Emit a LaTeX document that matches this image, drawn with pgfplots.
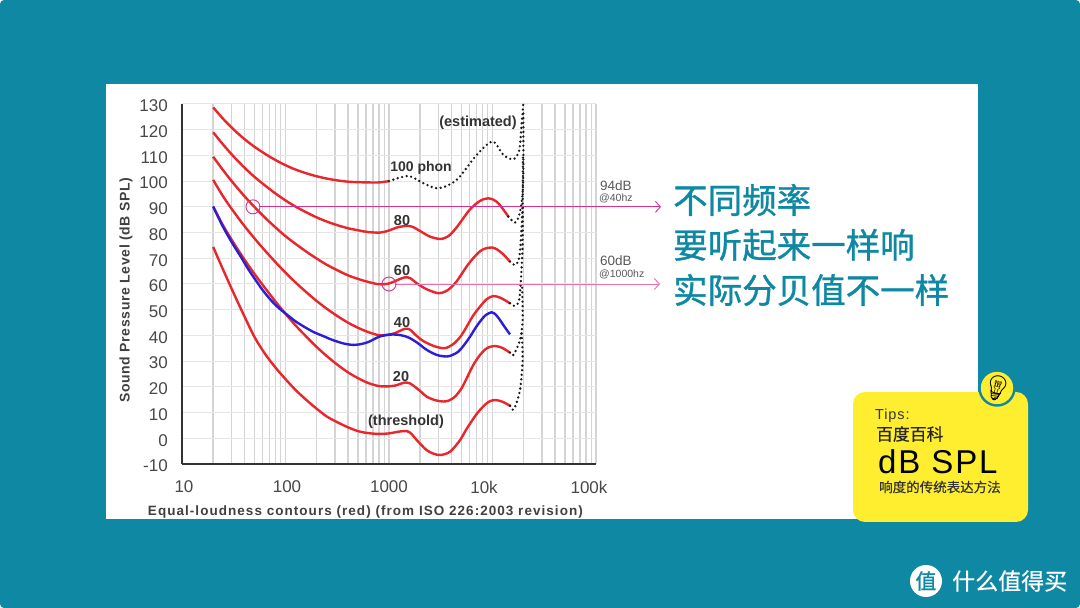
\documentclass[border=0pt]{standalone}
\usepackage{fontspec}
\usepackage{pgfplots}
\pgfplotsset{compat=1.18}
\usetikzlibrary{arrows.meta}
\setmainfont{Liberation Sans}
\newfontfamily\cjk{Noto Sans CJK SC}
\newfontfamily\cjkm[FakeBold=1.0]{Noto Sans CJK SC}
\newfontfamily\cjks[FakeBold=0.5]{Noto Sans CJK SC}
\newfontfamily\emojifont{Noto Emoji}
\definecolor{teal1}{HTML}{0F88A3}
\definecolor{card}{HTML}{FFEE30}
\definecolor{curve}{HTML}{E8262B}
\definecolor{loud}{HTML}{2A1FD6}
\definecolor{pinkA}{HTML}{D6338F}
\definecolor{pinkB}{HTML}{E96FAE}
\definecolor{labelgray}{HTML}{484848}
\newcommand{\fs}[1]{\fontsize{#1}{#1}\selectfont}
\begin{document}
\begin{tikzpicture}[x=1pt,y=1pt]
\path[use as bounding box] (0,0) rectangle (1080,608);
\fill[white] (0,0) rectangle (1080,608);
\fill[teal1, rounded corners=4pt] (0,0) rectangle (1080,608);
\fill[white] (106,89) rectangle (978,524);
\begin{axis}[
at={(182pt,144pt)}, anchor=south west,
scale only axis, width=414pt, height=360pt,
xmode=log, xmin=10, xmax=100000, ymin=-10, ymax=130,
clip=false,
axis x line=bottom, axis y line=left,
axis line style={-, draw=black!80, line width=2pt},
xtick={10,100,1000,10000,100000},
xticklabels={\hspace*{4pt}10,\hspace*{3pt}100,1000,10k\hspace*{17pt},100k\hspace*{14pt}},
minor xtick={20,30,40,50,60,70,80,90,100,200,300,400,500,600,700,800,900,1000,2000,3000,4000,5000,6000,7000,8000,9000,10000,20000,30000,40000,50000,60000,70000,80000,90000,100000},
ytick={-10,0,10,20,30,40,50,60,70,80,90,100,110,120,130},
yticklabels={-10,0,10,20,30,40,50,60,70,80,90,100,110,120,130},
major tick length=0pt, minor tick length=0pt,
ymajorgrids=true, xminorgrids=true,
major grid style={draw=black!10, line width=1pt},
minor grid style={draw=black!17, line width=1.4pt},
tick label style={font=\fs{17}, text=labelgray},
xticklabel style={anchor=center, yshift=-23pt},
yticklabel style={anchor=east, inner sep=0pt, xshift=-14pt, yshift=-2pt},
ylabel={\addfontfeature{LetterSpace=4.4}Sound Pressure Level (dB SPL)},
every axis y label/.style={at={(axis description cs:-0.135,0.483)},rotate=90,anchor=center,font=\bfseries\fs{14},text=black!75},
xlabel={\addfontfeature{LetterSpace=7.7}Equal-loudness contours (red) (from ISO 226:2003 revision)},
every axis x label/.style={at={(axis description cs:0.443,-0.133)},anchor=center,font=\bfseries\fs{13.5},text=black!75},
estimated/.style={black!90, line width=2.6pt, line cap=round, dash pattern=on 0pt off 4.6pt, smooth},
]
% threshold
\addplot[color=curve, smooth, line width=2.4pt] coordinates {
(20,74.4)(25,65.5)(31.5,56.5)(40,47.5)(50,39.5)(63,33)(80,27.5)(100,23)(125,18.8)(160,14.8)(200,11.5)(250,8.5)(315,6.3)(400,4.3)(500,2.8)(630,2)(800,1.7)(1000,1.9)(1250,2.6)(1490,2.8)(1650,1.7)(1850,-0.66)(2300,-4.55)(2700,-6)(3150,-6.5)(3900,-5.2)(4870,-0.66)(5500,3)(6400,7.1)(7200,10)(8100,12.3)(9200,14.2)(10600,14.9)(12500,14.2)(14800,12.6)};
% 20 phon
\addplot[color=curve, smooth, line width=2.4pt] coordinates {
(20,90)(25,82.7)(31.5,76)(40,69.6)(50,64)(63,58.6)(80,53.2)(100,48.4)(125,43.9)(160,39.4)(200,35.5)(250,32)(315,28.7)(400,25.7)(500,23.4)(630,21.5)(800,20.3)(1000,20.2)(1150,20.5)(1427,21.7)(1600,21.3)(1718,20.5)(2000,18.4)(2312,16.2)(2800,14.8)(3350,14.3)(3800,14.7)(4341,16.2)(5000,19.3)(5627,23.3)(6500,28.4)(7574,32.4)(8800,35)(10563,35.9)(12500,35.1)(14757,33.3)};
% 40 phon
\addplot[color=curve, smooth, line width=2.4pt] coordinates {
(20,100.5)(25,94)(31.5,88.2)(40,82.6)(50,77.8)(63,73.1)(80,68.5)(100,64.4)(125,60.6)(160,56.7)(200,53.4)(250,50.4)(315,47.6)(400,45)(500,43)(630,41.3)(800,40.1)(1000,40.3)(1142,40.9)(1427,42.6)(1600,42.2)(1850,39.8)(2146,37.8)(2700,35.9)(3350,35)(3800,35.6)(4341,37.2)(5000,40)(5627,43.4)(6500,47.7)(7574,51.2)(8800,54.1)(10185,55.3)(12000,54.6)(14757,52.5)};
% 60 phon
\addplot[color=curve, smooth, line width=2.4pt] coordinates {
(20,109.5)(25,104.2)(31.5,99.1)(40,94.2)(50,90)(63,85.9)(80,82)(100,78.6)(125,75.6)(160,72.5)(200,69.9)(250,67.5)(315,65.4)(400,63.4)(500,62)(630,60.8)(800,59.9)(1000,60.2)(1250,61.8)(1427,62.6)(1600,62.3)(1851,60.3)(2300,58)(2997,56.4)(3500,57.1)(3883,58.3)(4500,61)(5627,66.8)(6500,70)(7574,72.7)(8500,73.8)(9820,74.2)(11000,73.5)(12735,71.5)(14757,68.7)};
% 80 phon
\addplot[color=curve, smooth, line width=2.4pt] coordinates {
(20,119)(25,114.2)(31.5,109.6)(40,105.3)(50,101.7)(63,98.4)(80,95.2)(100,92.5)(125,90.1)(160,87.8)(200,85.9)(250,84.3)(315,82.9)(400,81.7)(500,80.9)(630,80.2)(818,80)(1000,80.8)(1200,82)(1481,82.6)(1700,82.2)(1993,80.6)(2500,78.4)(3110,77.5)(3500,78)(3883,79.1)(4500,82)(5226,85.6)(6000,88.8)(7034,91.4)(8000,92.8)(9120,93.3)(10200,92.8)(11376,91.4)(12800,88.8)(14234,86.2)};
% 100 phon
\addplot[color=curve, smooth, line width=2.4pt] coordinates {
(20,128.7)(25,124.2)(31.5,120.1)(40,116.4)(50,113.4)(63,110.7)(80,108.2)(100,106.2)(125,104.5)(160,103)(200,101.9)(250,101)(315,100.3)(400,99.8)(500,99.6)(630,99.5)(800,99.5)(1000,100)};
% blue curve
\addplot[color=loud, smooth, line width=2.4pt] coordinates {
(20,90.2)(24.7,82.5)(30.9,75.6)(37,70.6)(44.6,65.2)(60,57.7)(75,53)(90,50)(101,48.4)(130,45)(183,41.5)(230,39.8)(286,38.2)(370,36.8)(462,36.3)(560,36.8)(646,37.6)(730,38.7)(818,39.6)(1000,40.3)(1190,40.3)(1400,39.8)(1600,38.9)(1900,37)(2312,34.4)(2900,32.4)(3610,31.8)(4100,32.4)(4677,33.7)(5300,36.2)(6063,39.5)(6800,42.7)(7574,45.4)(8600,47.9)(9820,49)(10800,48)(11803,46)(13000,43.5)(14757,40.4)};
% estimated parts
\addplot[estimated] coordinates {
(1000,100)(1538,102)(2146,99.2)(2997,97.2)(4505,100.5)(7034,110.2)(10035,115.4)(12735,110.2)(15890,108.5)(18155,112.1)(19140,122.5)(19860,130.3)};
\addplot[estimated] coordinates {
(14234,86.2)(16496,83.9)(18155,86.9)(19400,94)(19860,104.4)(19860,128)};
\addplot[estimated] coordinates {
(14757,68.7)(16496,67.4)(17900,69.4)(18700,75.8)(19540,91.4)(19700,110)};
\addplot[estimated] coordinates {
(14757,52.5)(16496,51.5)(18155,54.1)(19140,66.8)(19540,75.8)(19600,90)};
\addplot[estimated] coordinates {
(14757,33.3)(15890,32.4)(18450,38.2)(19540,46)(19300,60)};
\addplot[estimated] coordinates {
(14800,12.6)(16100,11.3)(18450,18.8)(19540,30.5)(19140,40.8)};
% pink callouts
\addplot[pinkA, line width=0.9pt, -{Straight Barb[length=5pt,width=11pt]}] coordinates {(55,90)(424600,90)};
\addplot[pinkB, line width=0.9pt, -{Straight Barb[length=5pt,width=11pt]}] coordinates {(1140,60)(415000,60)};
\addplot[only marks, mark=o, mark size=7pt, mark options={draw=pinkA, line width=0.9pt, fill=none}] coordinates {(48.5,90)(1000,60)};
\end{axis}
\begin{scope}[shift={(0,608)},y=-1pt]
% curve labels
\begin{scope}[every node/.style={font=\bfseries\fs{14.5}, text=black!80, inner sep=0pt}]
\node[font=\bfseries\fs{14}] at (421,168) {100 phon};
\node at (402,221) {80};
\node at (402,271) {60};
\node at (402,323) {40};
\node at (401,377) {20};
\node at (406,422) {(threshold)};
\node at (478,123) {(estimated)};
\end{scope}
\begin{scope}[every node/.style={text=black!65, inner sep=0pt, anchor=west}]
\node[font=\fs{13.5}] at (600,186) {94dB};
\node[font=\fs{10.5}] at (599,198) {@40hz};
\node[font=\fs{13.5}] at (600,261) {60dB};
\node[font=\fs{10.5}] at (599,274) {@1000hz};
\end{scope}
% right hand text
\begin{scope}[every node/.style={text=teal1, inner sep=0pt, anchor=west, font=\cjkm\fs{34.5}}]
\node at (673,200) {不同频率};
\node at (673,245) {要听起来一样响};
\node at (673,290) {实际分贝值不一样};
\end{scope}
% tips card
\fill[card, rounded corners=12pt] (853,392) rectangle (1028,522);
\fill[card, draw=teal1, line width=2.4pt] (997,388) circle (17.5);
\node[rotate=-15, inner sep=0pt, font=\emojifont\fs{25}, text=black] at (997,388) {💡};
\node[anchor=west, inner sep=0pt, font=\fs{14.5}, text=black!80] at (875,416) {\addfontfeature{LetterSpace=6}Tips:};
\node[anchor=west, inner sep=0pt, font=\cjks\fs{16.8}, text=black!85] at (876,434) {百度百科};
\node[anchor=west, inner sep=0pt, font=\fs{33}, text=black] at (878,462) {\addfontfeature{LetterSpace=5.6}dB SPL};
\node[anchor=west, inner sep=0pt, font=\cjks\fs{13.5}, text=black!80] at (879,487) {响度的传统表达方法};
% watermark
\fill[white] (926,581) circle (16);
\node[inner sep=0pt, font=\cjkm\fs{21}, text=teal1] at (926,581) {值};
\node[anchor=west, inner sep=0pt, font=\cjks\fs{23}, text=white] at (952,581) {什么值得买};
\end{scope}
\end{tikzpicture}
\end{document}
